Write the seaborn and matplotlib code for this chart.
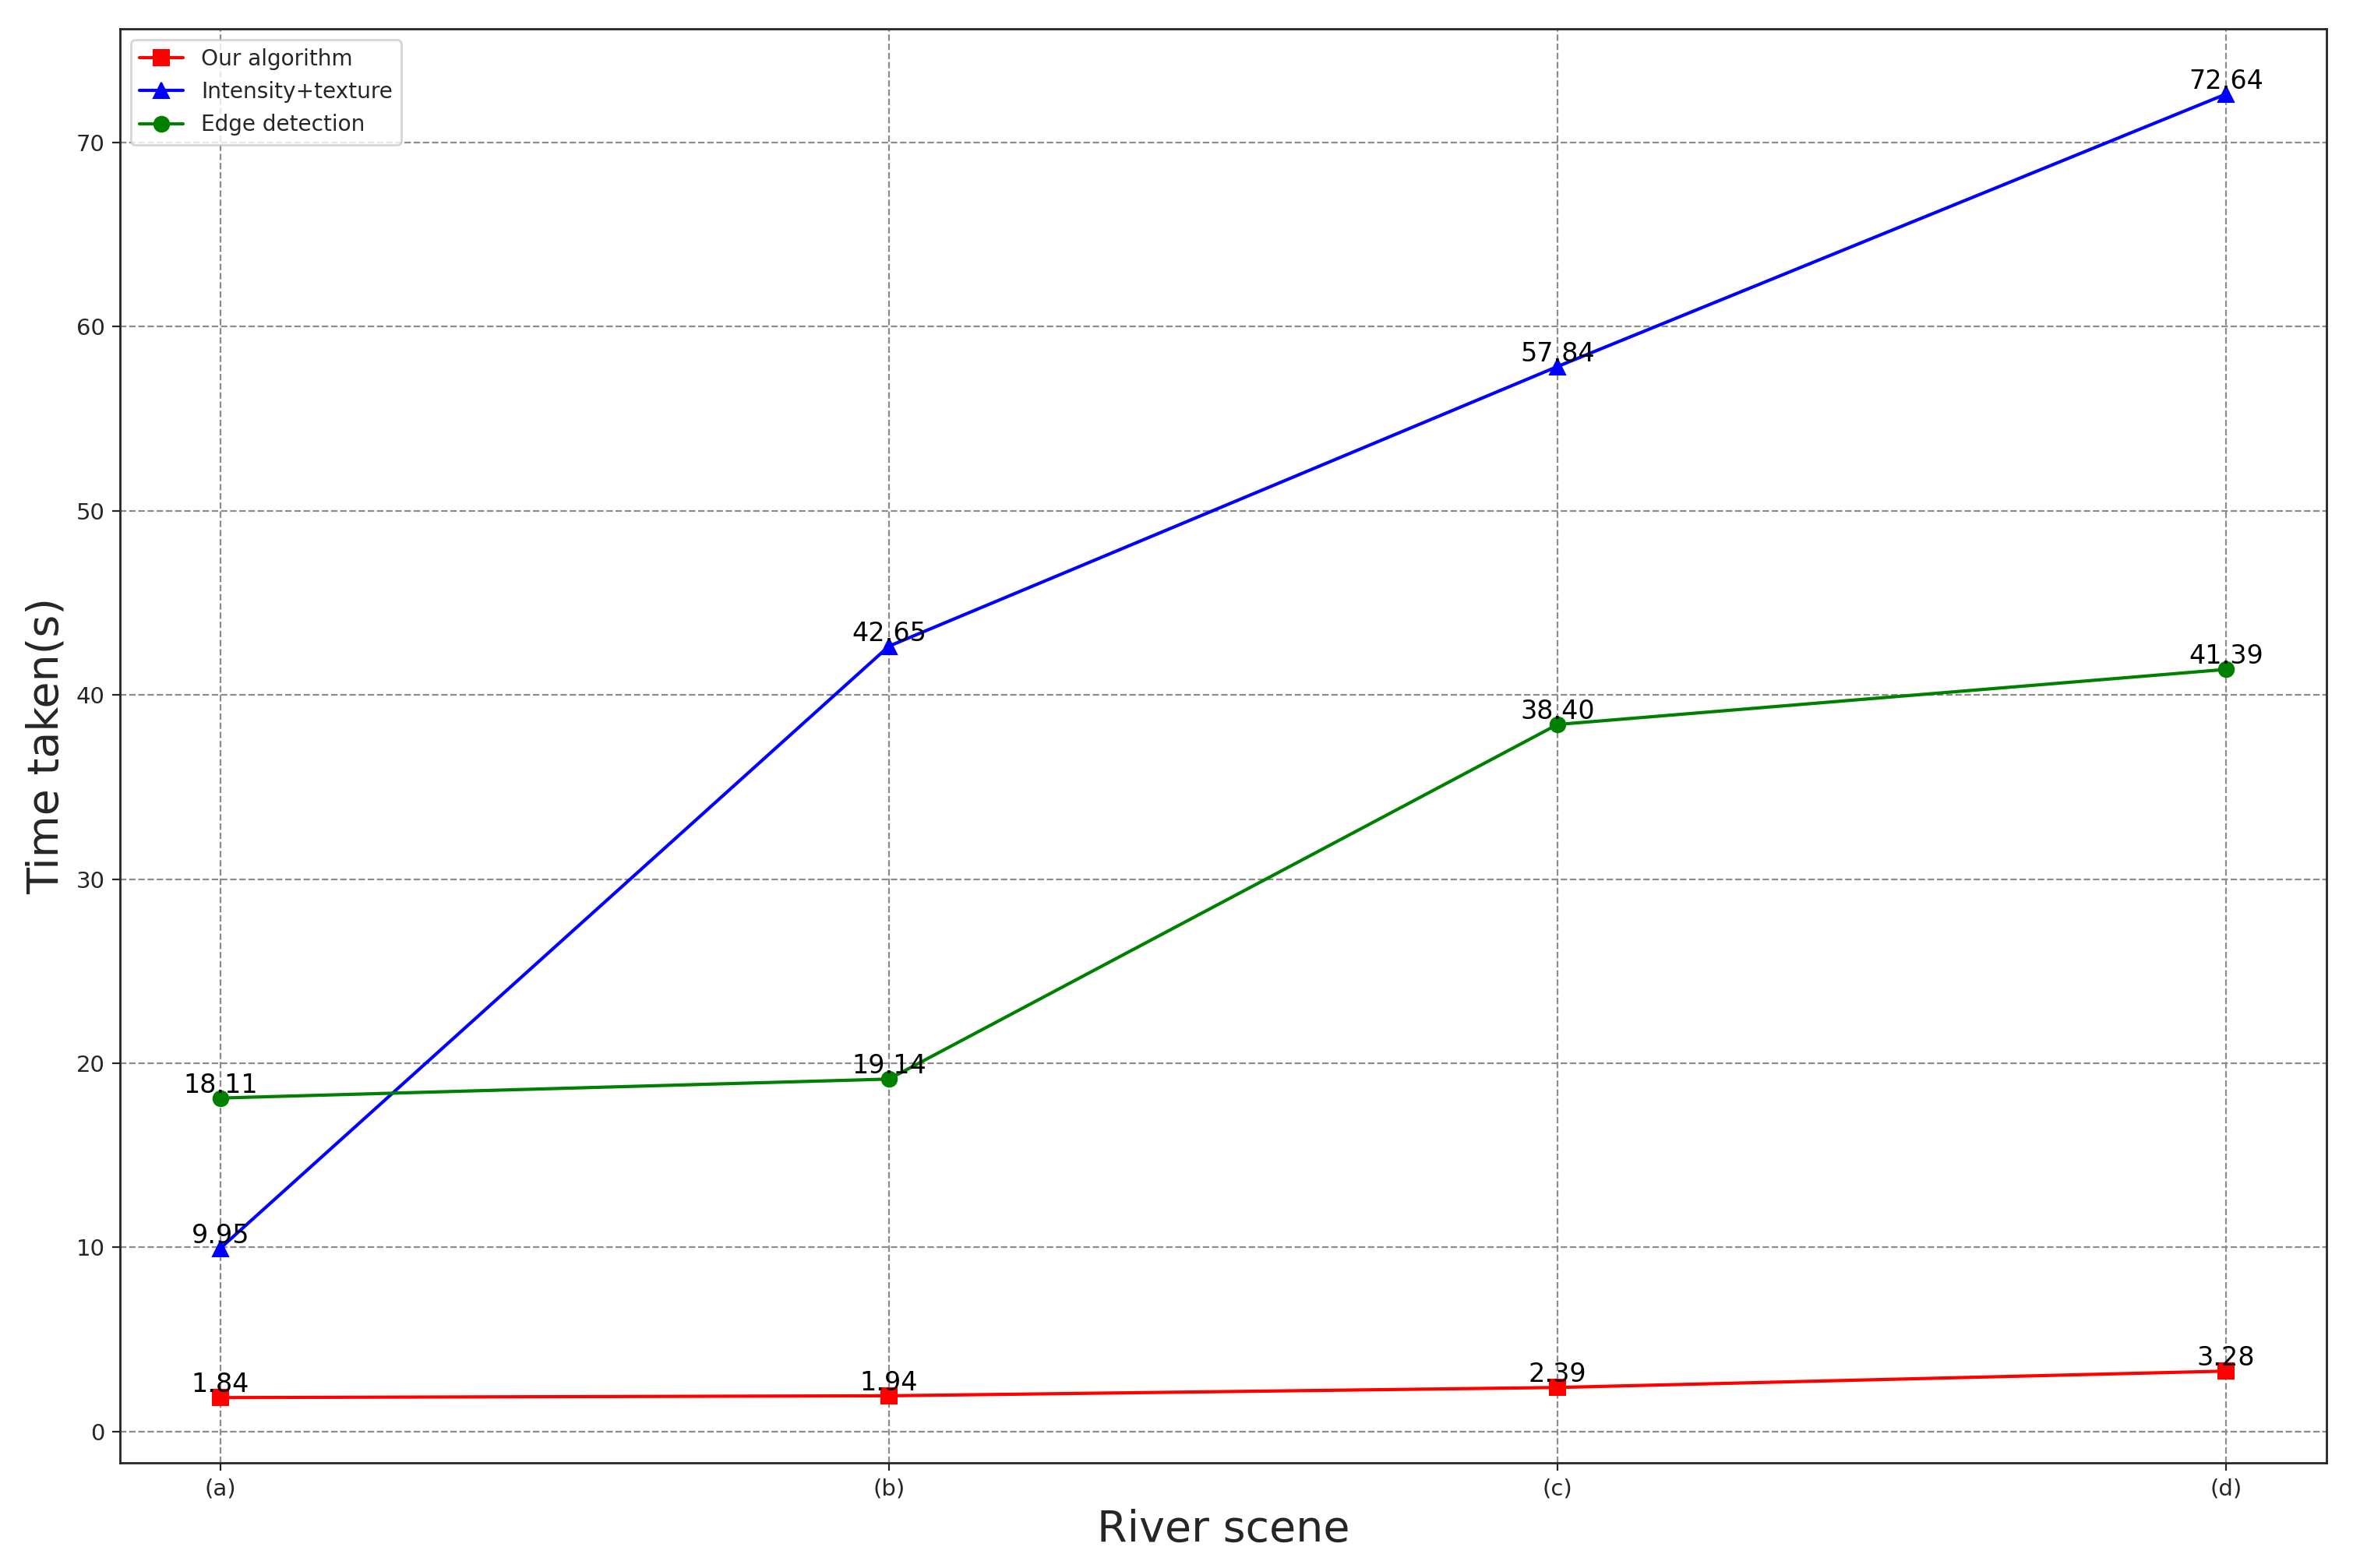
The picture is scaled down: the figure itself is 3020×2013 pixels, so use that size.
import matplotlib
matplotlib.use("Agg")
import matplotlib.pyplot as plt
import seaborn as sns
import pandas as pd

scenes = ["(a)", "(b)", "(c)", "(d)"]
ours = [1.84, 1.94, 2.39, 3.28]
intensity_texture = [9.95, 42.65, 57.84, 72.64]
edge_detection = [18.11, 19.14, 38.40, 41.39]

series = [
    ("Our algorithm", ours, "red", "s"),
    ("Intensity+texture", intensity_texture, "blue", "^"),
    ("Edge detection", edge_detection, "green", "o"),
]

sns.set_style("ticks")
plt.rcParams["font.family"] = ["DejaVu Sans"]

fig = plt.figure(figsize=(15.1, 10.065), dpi=200)
ax = fig.add_axes([0.051, 0.0671, 0.9377, 0.9145])

for name, vals, color, marker in series:
    df = pd.DataFrame({"scene": scenes, "time": vals})
    sns.lineplot(data=df, x="scene", y="time", color=color, marker=marker,
                 markersize=7, markeredgecolor=color, linewidth=1.5,
                 label=name, ax=ax, sort=False)
    for i, v in enumerate(vals):
        ax.text(i, v, f"{v:.2f}", ha="center", va="bottom", fontsize=12, color="black")

ax.margins(x=0.05, y=0.05)
ax.set_yticks(range(0, 71, 10))
ax.tick_params(axis="both", labelsize=10.5, length=3.5, width=0.8, direction="out")
ax.grid(True, color="0.55", linestyle="--", linewidth=0.8)
ax.set_axisbelow(True)
for sp in ax.spines.values():
    sp.set_visible(True)
    sp.set_color("0.15")
    sp.set_linewidth(1.0)

ax.set_xlabel("River scene", fontsize=20)
ax.set_ylabel("Time taken(s)", fontsize=20)
ax.legend(loc="upper left", fontsize=10.1, frameon=True, framealpha=0.8, edgecolor="0.8", fancybox=True)

fig.savefig("out.png", dpi=200)
